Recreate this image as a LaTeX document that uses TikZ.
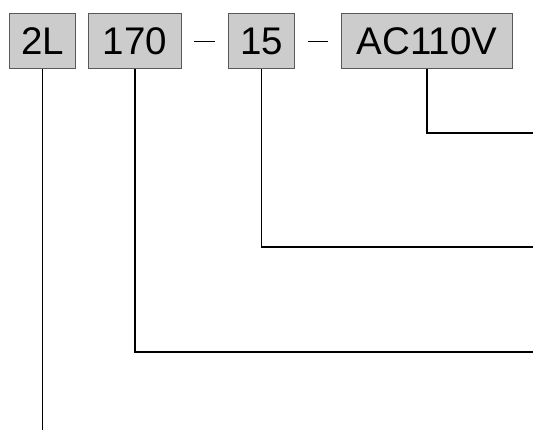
\documentclass[tikz,border=0pt]{standalone}
\usepackage{fontspec}
\setmainfont{Liberation Sans}
\begin{document}
\begin{tikzpicture}[x=1pt,y=-1pt,
  codebox/.style={draw=black!65,fill=black!20,line width=1pt,inner sep=0pt,
    minimum height=55pt,font=\fontsize{38.5}{42}\selectfont,anchor=north west},
  leader/.style={draw=black,line width=1.1pt},
  sep/.style={draw=black,line width=0.8pt}]
\useasboundingbox (0,0) rectangle (533,430);
\node[codebox,minimum width=66pt] (b2L) at (9,13) {2L};
\node[codebox,minimum width=93pt] (b170) at (88,13) {170};
\node[codebox,minimum width=66pt] (b15) at (228,13) {15};
\node[codebox,minimum width=171pt] (bAC) at (341,13) {AC110V};
\coordinate (d1a) at (194,41);
\coordinate (d1b) at (215,41);
\coordinate (d2a) at (308,41);
\coordinate (d2b) at (328,41);
\draw[sep] (d1a) -- (d1b);
\draw[sep] (d2a) -- (d2b);
\coordinate (eAC) at (533,133);
\coordinate (e15) at (533,247);
\coordinate (e170) at (533,352);
\coordinate (e2L) at (42,430);
\draw[leader] (bAC.south) |- (eAC);
\draw[leader] (b15.south) |- (e15);
\draw[leader] (b170.south) |- (e170);
\draw[leader] (b2L.south) -- (b2L.south |- e2L);
\end{tikzpicture}
\end{document}
